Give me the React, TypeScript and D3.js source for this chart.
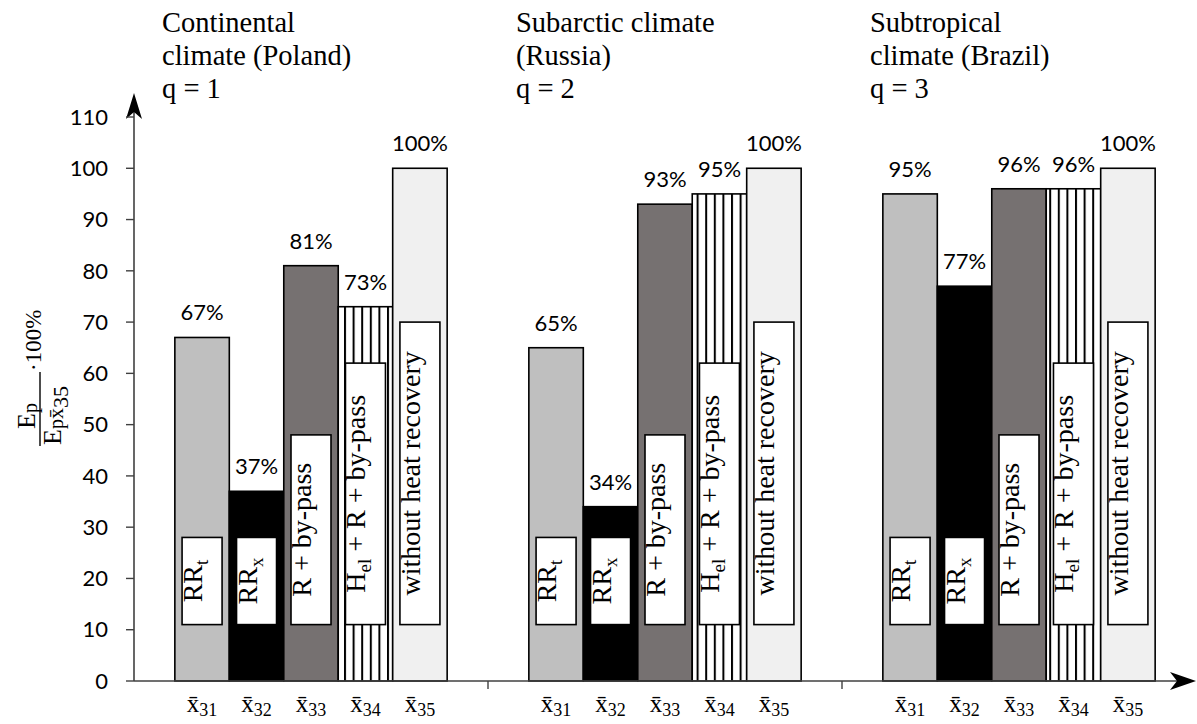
import React from "react";
import * as d3 from "d3";

const groupKeys = ["q1", "q2", "q3"];
const titleLines = [
  ["Continental", "climate (Poland)", "q = 1"],
  ["Subarctic climate", "(Russia)", "q = 2"],
  ["Subtropical", "climate (Brazil)", "q = 3"],
];
const series = ["x31", "x32", "x33", "x34", "x35"];
const seriesSub = ["31", "32", "33", "34", "35"];
const polandValues = [67, 37, 81, 73, 100];
const russiaValues = [65, 34, 93, 95, 100];
const brazilValues = [95, 77, 96, 96, 100];
const groupValues = [polandValues, russiaValues, brazilValues];
const boxTopValues = [28, 28, 48, 62, 70];
const boxBottomValue = 11;
const yTickValues = [0, 10, 20, 30, 40, 50, 60, 70, 80, 90, 100, 110];
const boxLabels = [
  [{ t: "RR" }, { t: "t", sub: true }],
  [{ t: "RR" }, { t: "x", sub: true }],
  [{ t: "R + by-pass" }],
  [{ t: "H" }, { t: "el", sub: true }, { t: " + R + by-pass" }],
  [{ t: "without heat recovery" }],
];
const fills = ["#bfbfbf", "#000000", "#767171", "url(#vhatch)", "#f0f0f0"];

const SERIF = "'Liberation Serif', 'Times New Roman', serif";
const SANS = "Lato, 'Open Sans', sans-serif";

export default function App() {
  const W = 1197, H = 724;
  const y = d3.scaleLinear().domain([0, 110]).range([681, 117]);
  const x0 = d3.scaleBand<string>().domain(groupKeys).range([134, 1196]);
  const x1 = d3
    .scaleBand<string>()
    .domain(series)
    .range([0, x0.bandwidth()])
    .paddingInner(0)
    .paddingOuter(0.75);
  const bw = x1.bandwidth();
  const y0 = y(0);
  const boxW = 40;

  return (
    <svg width={W} height={H} style={{ position: "absolute", left: 0, top: 0, background: "#fff" }}>
      <defs>
        <pattern id="vhatch" patternUnits="userSpaceOnUse" width={8.6} height={10}>
          <rect width={8.6} height={10} fill="#fff" />
          <rect x={0} width={2} height={10} fill="#000" />
        </pattern>
      </defs>
      <rect width={W} height={H} fill="#fff" />

      {/* titles */}
      {groupKeys.map((g, gi) => (
        <text key={g} fontFamily={SERIF} fontSize={28.5} fill="#000">
          {titleLines[gi].map((l, li) => (
            <tspan key={li} x={(x0(g) as number) + 28} y={32 + li * 33}>
              {l}
            </tspan>
          ))}
        </text>
      ))}

      {/* bars */}
      {groupKeys.map((g, gi) =>
        series.map((s, si) => {
          const v = groupValues[gi][si];
          const bx = (x0(g) as number) + (x1(s) as number);
          const cx = bx + bw / 2;
          const bt = y(boxTopValues[si]);
          const bb = y(boxBottomValue);
          return (
            <g key={g + s}>
              <rect x={bx} y={y(v)} width={bw} height={y0 - y(v)} fill={fills[si]} stroke="#000" strokeWidth={1.6} />
              <rect x={cx - boxW / 2} y={bt} width={boxW} height={bb - bt} fill="#fff" stroke="#000" strokeWidth={1.6} />
              <g transform={`translate(${cx},${(bt + bb) / 2}) rotate(-90)`}>
                <text textAnchor="middle" dy="0.35em" fontFamily={SERIF} fontSize={28} fill="#000">
                  {boxLabels[si].map((p: any, pi) => {
                    const prevSub = pi > 0 && (boxLabels[si][pi - 1] as any).sub;
                    return (
                      <tspan
                        key={pi}
                        fontSize={p.sub ? 19 : 28}
                        dy={p.sub ? 6 : prevSub ? -6 : 0}
                      >
                        {p.t}
                      </tspan>
                    );
                  })}
                </text>
              </g>
              <text x={cx} y={y(v) - 17} textAnchor="middle" fontFamily={SANS} fontSize={22} fill="#000">
                {v}%
              </text>
              <text x={cx} y={712} textAnchor="middle" fontFamily={SERIF} fill="#000">
                <tspan fontSize={25}>{"x\u0304"}</tspan>
                <tspan fontSize={18} dy={4}>{seriesSub[si]}</tspan>
              </text>
            </g>
          );
        })
      )}

      {/* y axis */}
      <line x1={134} x2={134} y1={y0} y2={100} stroke="#404040" strokeWidth={1.6} />
      <path d="M134,93 L126,119 L134,112 L142,119 Z" fill="#000" />
      {yTickValues.map((t) => (
        <g key={t}>
          <line x1={126} x2={134} y1={y(t)} y2={y(t)} stroke="#404040" strokeWidth={1.4} />
          <text x={108} y={y(t)} dy="0.35em" textAnchor="end" fontFamily={SANS} fontSize={22} fill="#000">
            {t}
          </text>
        </g>
      ))}

      {/* x axis */}
      <line x1={134} x2={1180} y1={y0} y2={y0} stroke="#404040" strokeWidth={1.6} />
      <path d={`M1196,${y0} L1170,${y0 - 9} L1177,${y0} L1170,${y0 + 9} Z`} fill="#000" />
      {groupKeys.slice(1).map((g) => (
        <line key={g} x1={x0(g) as number} x2={x0(g) as number} y1={y0} y2={y0 + 8} stroke="#404040" strokeWidth={1.4} />
      ))}

      {/* y axis label */}
      <g transform="translate(40,446) rotate(-90)" fontFamily={SERIF} fill="#000">
        <line x1={0} x2={74} y1={0} y2={0} stroke="#000" strokeWidth={1.4} />
        <text x={30} y={-5} textAnchor="middle" fontSize={26}>
          <tspan>E</tspan>
          <tspan fontSize={20} dy={2}>p</tspan>
        </text>
        <text x={1} y={21} fontSize={26}>
          <tspan>E</tspan>
          <tspan fontSize={20} dy={2}>p</tspan>
          <tspan fontSize={22}>{"x\u0304"}</tspan>
          <tspan fontSize={22} dy={5}>35</tspan>
        </text>
        <text x={75} y={1} fontSize={23}>·100%</text>
      </g>
    </svg>
  );
}
